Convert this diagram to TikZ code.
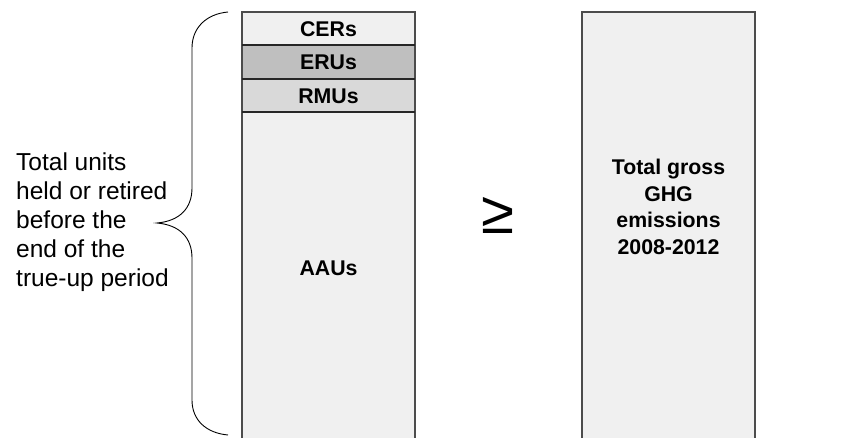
\documentclass[tikz,border=0pt]{standalone}
\usepackage{fontspec}
\setmainfont{Liberation Sans}
\begin{document}
\begin{tikzpicture}[x=1pt,y=-1pt,
  unitbox/.style={draw=black!70, line width=1.2pt},
  boldlabel/.style={font=\bfseries\fontsize{21.3}{26.5}\selectfont, align=center, inner sep=0pt},
  sidelabel/.style={font=\fontsize{24.5}{29}\selectfont, align=left, inner sep=0pt, anchor=west},
  bracestyle/.style={draw=black, line width=0.9pt}]
\useasboundingbox (0,0) rectangle (853,438);

% stacked units column
\fill[black!6] (242,12) rectangle (415,45);
\fill[black!25] (242,45) rectangle (415,79);
\fill[black!15] (242,79) rectangle (415,112);
\fill[black!6] (242,112) rectangle (415,440);
\draw[unitbox] (242,440) -- (242,12) -- (415,12) -- (415,440);
\draw[unitbox, draw=black!85] (242,45) -- (415,45);
\draw[unitbox, draw=black!85] (242,79) -- (415,79);
\draw[unitbox, draw=black!85] (242,112) -- (415,112);

\node[boldlabel] (cers) at (328.5,29) {CERs};
\node[boldlabel] (erus) at (328.5,62.5) {ERUs};
\node[boldlabel] (rmus) at (328.5,96) {RMUs};
\node[boldlabel] (aaus) at (328.5,268) {AAUs};

% emissions column
\fill[black!6] (582,12) rectangle (755,440);
\draw[unitbox] (582,440) -- (582,12) -- (755,12) -- (755,440);
\node[boldlabel] (ghg) at (668.5,207) {Total gross\\GHG\\emissions\\2008-2012};

% comparison sign
\node[inner sep=0pt, font=\fontsize{60}{60}\selectfont] (geq) at (498,215) {≥};

% brace and its label
\draw[bracestyle] (228,12) .. controls (206,14) and (192,28) .. (192,48)
  -- (192,188) .. controls (192,208) and (180,221) .. (157,223)
  .. controls (180,225) and (192,238) .. (192,258)
  -- (192,400) .. controls (192,420) and (206,433) .. (228,435);
\node[sidelabel] (total) at (16,222) {Total units\\held or retired\\before the\\end of the\\true-up period};
\end{tikzpicture}
\end{document}
